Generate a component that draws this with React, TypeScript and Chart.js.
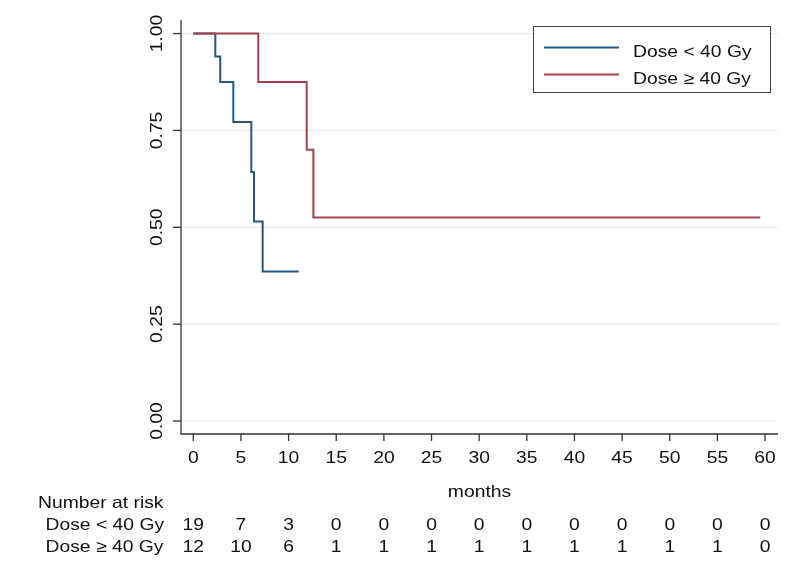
import React, { useEffect, useRef } from "react";
import { Chart, registerables } from "chart.js";

Chart.register(...registerables);

// ---- Data ----
const seriesNames = ["Dose < 40 Gy", "Dose \u2265 40 Gy"];
const lowDoseTimes = [0, 2.31, 2.83, 4.2, 6.09, 6.37, 7.28, 11.06];
const lowDoseSurv = [1, 0.941, 0.875, 0.772, 0.643, 0.515, 0.386, 0.386];
const highDoseTimes = [0, 6.82, 11.9, 12.6, 59.5];
const highDoseSurv = [1, 0.875, 0.7, 0.525, 0.525];
const xTicks = [0, 5, 10, 15, 20, 25, 30, 35, 40, 45, 50, 55, 60];
const yTicks = [0, 0.25, 0.5, 0.75, 1.0];
const yTickLabels = ["0.00", "0.25", "0.50", "0.75", "1.00"];
const riskLow = [19, 7, 3, 0, 0, 0, 0, 0, 0, 0, 0, 0, 0];
const riskHigh = [12, 10, 6, 1, 1, 1, 1, 1, 1, 1, 1, 1, 0];
const xTitle = "months";
const riskTitle = "Number at risk";

const BLUE = "#2a5583";
const RED = "#a3404a";
const GRID = "#e6eff1";
const AXIS = "#333333";
const FONT = '16.5px "Liberation Sans", Arial, sans-serif';
const STRETCH = 1.17;

function drawText(
  ctx: CanvasRenderingContext2D,
  text: string,
  x: number,
  y: number,
  align: "left" | "center" | "right",
  rotate = false
) {
  ctx.save();
  ctx.font = FONT;
  ctx.fillStyle = "#111";
  ctx.textBaseline = "alphabetic";
  ctx.textAlign = align;
  ctx.translate(x, y);
  if (rotate) ctx.rotate(-Math.PI / 2);
  ctx.scale(STRETCH, 1);
  ctx.fillText(text, 0, 0);
  ctx.restore();
}

const decorPlugin = {
  id: "decor",
  beforeDatasetsDraw(chart: any) {
    const ctx: CanvasRenderingContext2D = chart.ctx;
    const { left, right, top, bottom } = chart.chartArea;
    const xs = chart.scales.x;
    const ys = chart.scales.y;
    ctx.save();
    // grid
    ctx.strokeStyle = GRID;
    ctx.lineWidth = 1.2;
    yTicks.forEach((v) => {
      const py = ys.getPixelForValue(v);
      ctx.beginPath();
      ctx.moveTo(left, py);
      ctx.lineTo(right, py);
      ctx.stroke();
    });
    // axes
    ctx.strokeStyle = AXIS;
    ctx.lineWidth = 1.3;
    ctx.beginPath();
    ctx.moveTo(left, top);
    ctx.lineTo(left, bottom);
    ctx.lineTo(right, bottom);
    ctx.stroke();
    // ticks
    yTicks.forEach((v) => {
      const py = ys.getPixelForValue(v);
      ctx.beginPath();
      ctx.moveTo(left - 8, py);
      ctx.lineTo(left, py);
      ctx.stroke();
    });
    xTicks.forEach((v) => {
      const px = xs.getPixelForValue(v);
      ctx.beginPath();
      ctx.moveTo(px, bottom);
      ctx.lineTo(px, bottom + 7);
      ctx.stroke();
    });
    ctx.restore();
  },
  afterDraw(chart: any) {
    const ctx: CanvasRenderingContext2D = chart.ctx;
    const { left, right } = chart.chartArea;
    const xs = chart.scales.x;
    const ys = chart.scales.y;
    // y tick labels (rotated)
    yTicks.forEach((v, i) => {
      drawText(ctx, yTickLabels[i], 162, ys.getPixelForValue(v), "center", true);
    });
    // x tick labels
    xTicks.forEach((v) => {
      drawText(ctx, String(v), xs.getPixelForValue(v), 463, "center");
    });
    // x title
    drawText(ctx, xTitle, (left + right) / 2, 497, "center");
    // risk table
    drawText(ctx, riskTitle, 38, 508, "left");
    drawText(ctx, seriesNames[0], 45.5, 530, "left");
    drawText(ctx, seriesNames[1], 45.5, 552, "left");
    xTicks.forEach((v, i) => {
      const px = xs.getPixelForValue(v);
      drawText(ctx, String(riskLow[i]), px, 530, "center");
      drawText(ctx, String(riskHigh[i]), px, 552, "center");
    });
    // legend
    ctx.save();
    ctx.fillStyle = "#fff";
    ctx.fillRect(533.5, 26.5, 237, 66);
    ctx.strokeStyle = "#444";
    ctx.lineWidth = 1;
    ctx.strokeRect(533.5, 26.5, 237, 66);
    ctx.lineWidth = 2;
    ctx.strokeStyle = BLUE;
    ctx.beginPath();
    ctx.moveTo(544, 47.5);
    ctx.lineTo(619, 47.5);
    ctx.stroke();
    ctx.strokeStyle = RED;
    ctx.beginPath();
    ctx.moveTo(544, 74.5);
    ctx.lineTo(619, 74.5);
    ctx.stroke();
    ctx.restore();
    drawText(ctx, seriesNames[0], 633, 56.5, "left");
    drawText(ctx, seriesNames[1], 633, 83.5, "left");
  },
};

export default function App() {
  const canvasRef = useRef<HTMLCanvasElement | null>(null);
  useEffect(() => {
    if (!canvasRef.current) return;
    const chart = new Chart(canvasRef.current, {
      type: "line",
      data: {
        datasets: [
          {
            label: seriesNames[0],
            data: lowDoseTimes.map((t, i) => ({ x: t, y: lowDoseSurv[i] })),
            borderColor: BLUE,
            borderWidth: 2,
            pointRadius: 0,
            stepped: "before",
            fill: false,
            order: 1,
          },
          {
            label: seriesNames[1],
            data: highDoseTimes.map((t, i) => ({ x: t, y: highDoseSurv[i] })),
            borderColor: RED,
            borderWidth: 2,
            pointRadius: 0,
            stepped: "before",
            fill: false,
            order: 0,
          },
        ],
      },
      options: {
        animation: false,
        responsive: false,
        devicePixelRatio: 1,
        layout: { padding: { left: 181, right: 22, top: 20, bottom: 148 } },
        plugins: { legend: { display: false }, tooltip: { enabled: false } },
        scales: {
          x: { type: "linear", min: -1.29, max: 61.36, display: false },
          y: { type: "linear", min: -0.0335, max: 1.035, display: false },
        },
      },
      plugins: [decorPlugin],
    });
    return () => chart.destroy();
  }, []);
  return (
    <div style={{ position: "absolute", left: 0, top: 0, width: 800, height: 582, background: "#fff" }}>
      <canvas ref={canvasRef} width={800} height={582} style={{ width: 800, height: 582, display: "block" }} />
    </div>
  );
}
